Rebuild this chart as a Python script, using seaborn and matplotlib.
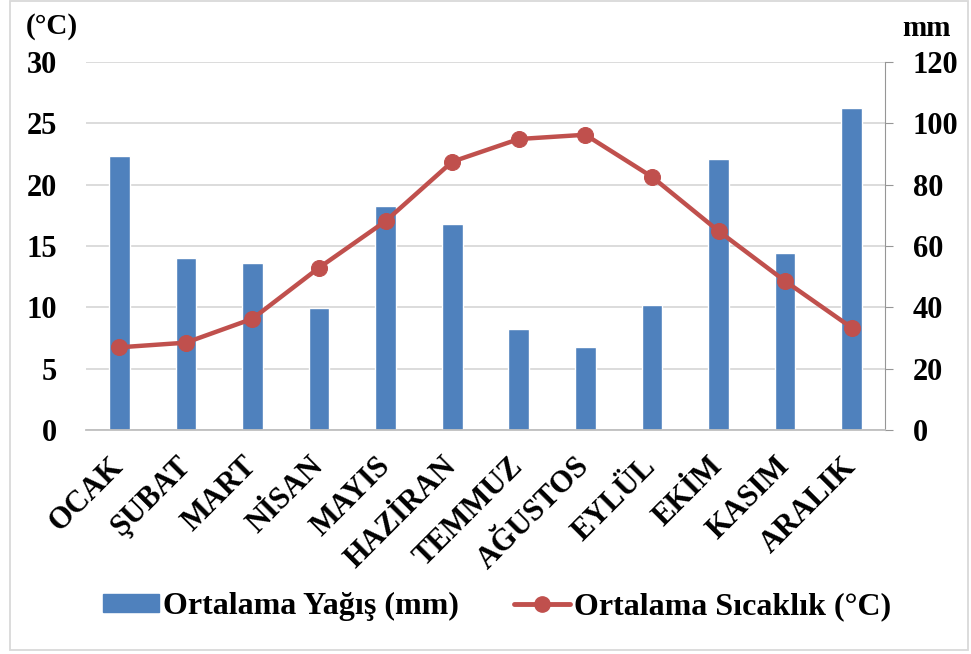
import matplotlib
matplotlib.use('Agg')

import matplotlib.pyplot as plt
import seaborn as sns
import pandas as pd
from matplotlib.patches import Rectangle
from matplotlib.lines import Line2D

# Monthly climate data
months = ['OCAK', 'ŞUBAT', 'MART', 'NİSAN', 'MAYIS', 'HAZİRAN',
          'TEMMUZ', 'AĞUSTOS', 'EYLÜL', 'EKİM', 'KASIM', 'ARALIK']
rain_mm = [89.3, 56.1, 54.3, 39.7, 73.0, 67.1, 32.9, 27.0, 40.8, 88.4, 57.6, 105.0]
temp_c = [6.74, 7.12, 9.07, 13.23, 17.03, 21.87, 23.72, 24.07, 20.64, 16.22, 12.14, 8.34]
temp_ticks = [0, 5, 10, 15, 20, 25, 30]
rain_ticks = [0, 20, 40, 60, 80, 100, 120]

df = pd.DataFrame({'Ay': months, 'Yagis': rain_mm, 'Sicaklik': temp_c})

sns.set_style('white')
plt.rcParams['font.family'] = ['Liberation Serif', 'DejaVu Serif']
plt.rcParams['font.weight'] = 'bold'
plt.rcParams['text.color'] = 'black'

blue = '#4F81BD'
red = '#C0504D'
fs = 22

fig = plt.figure(figsize=(9.71, 6.54), dpi=100)
ax = fig.add_axes([0.0886, 0.3425, 0.8228, 0.5627])

# Bars (mm) on the primary axis, shown on the right
sns.barplot(data=df, x='Ay', y='Yagis', color=blue, width=0.31, saturation=1,
            ax=ax, zorder=2)
ax.set_ylim(0, 120)
ax.set_yticks(rain_ticks)
ax.set_xlim(-0.5, len(months) - 0.5)
ax.grid(axis='y', color='#D9D9D9', linewidth=1.3, zorder=0)
ax.set_axisbelow(True)
ax.set_xlabel('')
ax.set_ylabel('')

# Temperature line on the twin axis, shown on the left
ax2 = ax.twinx()
sns.lineplot(data=df, x='Ay', y='Sicaklik', sort=False, color=red, linewidth=3.2,
             marker='o', markersize=11.5, markeredgecolor=red, ax=ax2)
ax2.set_ylim(0, 30)
ax2.set_yticks(temp_ticks)
ax2.set_ylabel('')
ax2.set_xlabel('')

# swap the y axes sides (twinx resets them)
ax.yaxis.tick_right()
ax2.yaxis.tick_left()

for side in ['top', 'left']:
    ax.spines[side].set_visible(False)
ax.spines['right'].set_visible(True)
ax.spines['right'].set_color('#969696')
ax.spines['bottom'].set_color('#BFBFBF')
ax.spines['bottom'].set_linewidth(1.3)
ax.tick_params(axis='y', which='both', right=True, left=False, length=6,
               color='#969696', labelsize=fs, pad=14, labelcolor='black')
ax.tick_params(axis='x', length=0, pad=23)
ax.set_xticks(range(len(months)))
ax.set_xticklabels(months, rotation=45, ha='right', va='center',
                   rotation_mode='anchor', fontsize=fs, fontweight='bold',
                   color='black')
for lab in ax.get_yticklabels():
    lab.set_fontweight('bold')

for side in ['top', 'left', 'right', 'bottom']:
    ax2.spines[side].set_visible(False)
ax2.tick_params(axis='y', length=0, labelsize=fs, pad=21, labelcolor='black')
for lab in ax2.get_yticklabels():
    lab.set_fontweight('bold')

fig.text(0.027, 0.959, '(°C)', fontsize=21, fontweight='bold', va='center')
fig.text(0.929, 0.957, 'mm', fontsize=21, fontweight='bold', va='center')

handles = [
    Rectangle((0, 0), 1, 1, color=blue),
    Line2D([0], [0], color=red, linewidth=3.5, marker='o', markersize=11),
]
fig.legend(handles, ['Ortalama Yağış (mm)', 'Ortalama Sıcaklık (°C)'],
           loc='center', bbox_to_anchor=(0.512, 0.072), ncol=2, frameon=False,
           prop={'size': 23, 'weight': 'bold'}, handlelength=1.75,
           handleheight=0.45, handletextpad=0.15, columnspacing=1.7)

# Outer chart border
fig.patches.append(Rectangle((0.01, 0.006), 0.987, 0.992, transform=fig.transFigure,
                             fill=False, edgecolor='#D9D9D9', linewidth=1.3))

plt.savefig('out.png', dpi=100)
plt.close()
